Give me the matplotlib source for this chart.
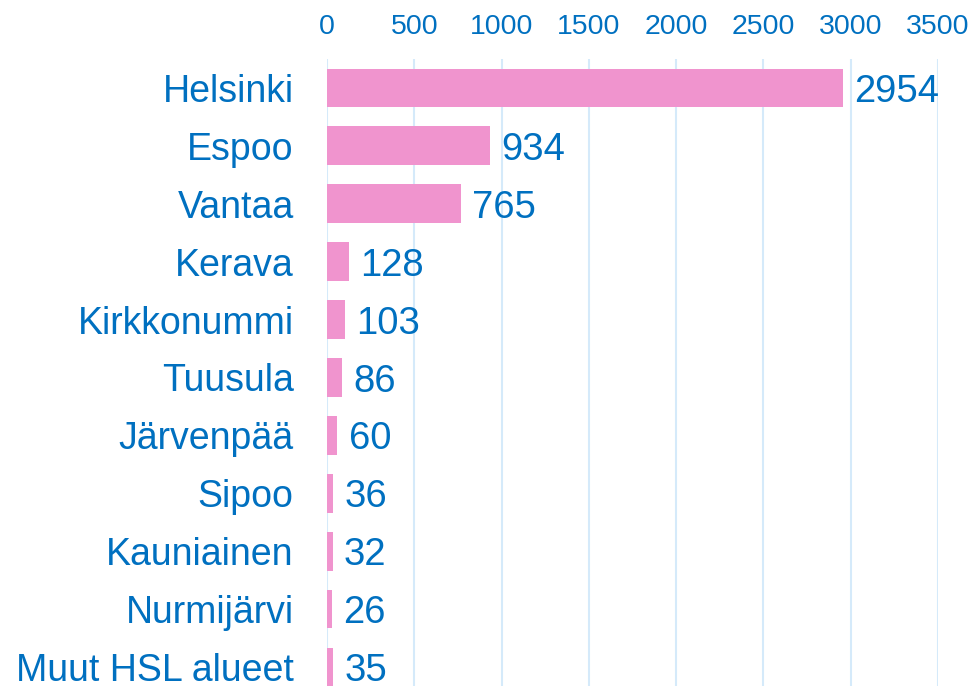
import matplotlib
matplotlib.use("Agg")
import matplotlib.pyplot as plt

categories = ["Helsinki", "Espoo", "Vantaa", "Kerava", "Kirkkonummi", "Tuusula",
              "Järvenpää", "Sipoo", "Kauniainen", "Nurmijärvi", "Muut HSL alueet"]
values = [2954, 934, 765, 128, 103, 86, 60, 36, 32, 26, 35]
xticks = [0, 500, 1000, 1500, 2000, 2500, 3000, 3500]

blue = "#0070C0"
pink = "#F094CE"
grid = "#D5EAFA"

plt.rcParams['font.family'] = ['Liberation Sans', 'DejaVu Sans']
fig = plt.figure(figsize=(9.73, 6.86), dpi=100)
ax = fig.add_axes([327/973, 0, (938-327)/973, 1 - 59/686])

y = list(range(len(categories)))
ax.barh(y, values, height=0.67, color=pink, zorder=2)
for yi, v in zip(y, values):
    ax.annotate(str(v), (v, yi), xytext=(8, -3), textcoords="offset points",
                va="center", ha="left", fontsize=27.5, color=blue)

ax.set_xlim(0, 3500)
ax.set_ylim(10.33, -0.5)
ax.set_xticks(xticks)
ax.set_xticklabels([str(t) for t in xticks])
ax.set_yticks(y)
ax.set_yticklabels(categories)
ax.xaxis.tick_top()
ax.tick_params(axis="x", length=0, pad=14, labelsize=20.5, labelcolor=blue)
ax.tick_params(axis="y", length=0, pad=24, labelsize=27, labelcolor=blue)
for s in ax.spines.values():
    s.set_visible(False)
ax.grid(axis="x", color=grid, linewidth=1.5, zorder=0)
ax.set_axisbelow(True)

fig.savefig("out.png", dpi=100)
